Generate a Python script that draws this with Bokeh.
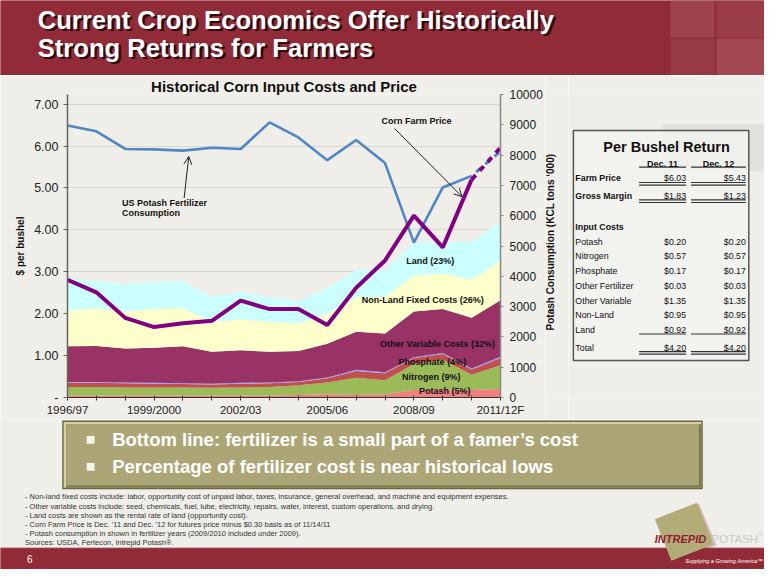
import math
from bokeh.plotting import figure
from bokeh.models import (ColumnDataSource, Range1d, LinearAxis, FixedTicker, Label,
                          Arrow, OpenHead)
from bokeh.layouts import column, row
from bokeh.embed import file_html
from bokeh.resources import INLINE

# ---------------- data ----------------
years = ["1996/97", "1997/98", "1998/99", "1999/2000", "2000/01", "2001/02", "2002/03",
         "2003/04", "2004/05", "2005/06", "2006/07", "2007/08", "2008/09", "2009/10",
         "2010/11", "2011/12F"]
# $ per bushel, stacked layers (bottom to top)
potash     = [0.05, 0.05, 0.05, 0.05, 0.05, 0.05, 0.05, 0.05, 0.06, 0.08, 0.06, 0.08, 0.18, 0.20, 0.18, 0.20]
nitrogen   = [0.20, 0.20, 0.19, 0.19, 0.19, 0.18, 0.19, 0.20, 0.23, 0.28, 0.41, 0.33, 0.62, 0.70, 0.36, 0.57]
phosphate  = [0.10, 0.10, 0.10, 0.09, 0.08, 0.08, 0.09, 0.09, 0.08, 0.10, 0.16, 0.17, 0.14, 0.14, 0.13, 0.17]
other_fert = [0.02, 0.02, 0.02, 0.02, 0.02, 0.02, 0.02, 0.02, 0.02, 0.02, 0.03, 0.02, 0.02, 0.02, 0.02, 0.03]
other_var  = [0.85, 0.86, 0.81, 0.84, 0.88, 0.76, 0.78, 0.73, 0.72, 0.80, 0.91, 0.93, 1.09, 1.05, 1.21, 1.35]
non_land   = [0.85, 0.90, 0.88, 0.92, 0.91, 0.71, 0.74, 0.71, 0.66, 0.73, 0.82, 0.88, 0.86, 0.84, 0.91, 0.95]
land       = [0.77, 0.65, 0.65, 0.64, 0.65, 0.60, 0.65, 0.59, 0.53, 0.60, 0.65, 0.63, 0.78, 0.76, 0.90, 0.92]
corn_price = [2.81, 2.51, 1.90, 1.68, 1.77, 1.83, 2.31, 2.11, 2.11, 1.73, 2.62, 3.27, 4.34, 3.58, 5.20, 5.96]
potash_kcl = [8975, 8784, 8203, 8190, 8149, 8244, 8203, 9080, 8584, 7832, 8498, 7737, 5111, 6933, 7314, 8127]

layer_names = ["Potash (5%)", "Nitrogen (9%)", "Phosphate (4%)", "Other Fertilizer",
               "Other Variable Costs (32%)", "Non-Land Fixed Costs (26%)", "Land (23%)"]
left_ticks = [0, 1, 2, 3, 4, 5, 6, 7]
left_tick_labels = ["-", "1.00", "2.00", "3.00", "4.00", "5.00", "6.00", "7.00"]
right_ticks = [0, 1000, 2000, 3000, 4000, 5000, 6000, 7000, 8000, 9000, 10000]
right_tick_labels = ["0", "1000", "2000", "3000", "4000", "5000", "6000", "7000", "8000", "9000", "10000"]

table_rows = ["Farm Price", "Gross Margin", "Input Costs", "Potash", "Nitrogen", "Phosphate",
              "Other Fertilizer", "Other Variable", "Non-Land", "Land", "Total"]
table_dec11 = [6.03, 1.83, None, 0.20, 0.57, 0.17, 0.03, 1.35, 0.95, 0.92, 4.20]
table_dec12 = [5.43, 1.23, None, 0.20, 0.57, 0.17, 0.03, 1.35, 0.95, 0.92, 4.20]

bullets = ["Bottom line: fertilizer is a small part of a famer\u2019s cost",
           "Percentage of fertilizer cost is near historical lows"]
footnotes = [
    "- Non-land fixed costs include: labor, opportunity cost of unpaid labor, taxes, insurance, general overhead, and machine and equipment expenses.",
    "- Other variable costs include: seed, chemicals, fuel, lube, electricity, repairs, water, interest, custom operations, and drying.",
    "- Land costs are shown as the rental rate of land (opportunity cost).",
    "- Corn Farm Price is Dec. \u201911 and Dec. \u201912 for futures price minus $0.30 basis as of 11/14/11",
    "- Potash consumption in shown in fertilizer years (2009/2010 included under 2009).",
    "Sources: USDA, Fertecon, Intrepid Potash\u00ae.",
]

# ---------------- style ----------------
BG = "#efeee9"
RED = "#922b38"
FONT = "Liberation Sans"


def base_fig(w, h, xr, yr):
    f = figure(width=w, height=h, x_range=Range1d(*xr), y_range=Range1d(*yr),
               output_backend="svg", toolbar_location=None, min_border=0,
               x_axis_type=None, y_axis_type=None)
    f.grid.visible = False
    f.outline_line_color = None
    f.background_fill_color = BG
    f.border_fill_color = BG
    return f


def lab(f, x, y, text, size, color="#111111", style="normal", align="left", **kw):
    f.add_layout(Label(x=x, y=y, text=text, text_font=FONT, text_font_size=size,
                       text_color=color, text_font_style=style, text_align=align,
                       text_baseline="middle", **kw))


# ---------------- title bar ----------------
top = base_fig(764, 75, (0, 780), (77, 0))
top.quad(left=[0], right=[780], top=[0], bottom=[77], color=RED)
top.quad(left=[684, 731, 684, 731], right=[729, 780, 729, 780], top=[0, 0, 39, 39],
         bottom=[38, 38, 77, 77], fill_color=["#a24b55", "#9c414c", "#9a3f4a", "#a44f58"],
         line_color=None, fill_alpha=0.8)
for i, t in enumerate(["Current Crop Economics Offer Historically", "Strong Returns for Farmers"]):
    yy = 20 + 28.5 * i
    lab(top, 40.5, yy + 2.5, t, "25.6px", "#2e0a0e", "bold")
    lab(top, 38, yy, t, "25.6px", "#ffffff", "bold")

# ---------------- chart ----------------
x = list(range(len(years)))
src = ColumnDataSource(dict(x=x, potash=potash, nitrogen=nitrogen, phosphate=phosphate,
                            other_fert=other_fert, other_var=other_var,
                            non_land=non_land, land=land))
p = figure(width=545, height=344, x_range=Range1d(0, len(years) - 1), y_range=Range1d(0, 7.23),
           output_backend="svg", toolbar_location=None,
           min_border_left=67, min_border_right=43, min_border_top=15, min_border_bottom=22)
p.extra_y_ranges = {"kcl": Range1d(0, 10000)}
p.background_fill_color = BG
p.border_fill_color = BG
p.outline_line_color = None
p.xgrid.visible = False
p.ygrid.grid_line_color = "#d6d6d2"
p.ygrid.grid_line_width = 1.2

p.title.text = "Historical Corn Input Costs and Price"
p.title.text_font = FONT
p.title.text_font_size = "15px"
p.title.text_font_style = "bold"
p.title.text_color = "#111111"
p.title.align = "center"
p.title.offset = -12
p.title.standoff = 0

p.varea_stack(stackers=["potash", "nitrogen", "phosphate", "other_fert", "other_var", "non_land", "land"],
              x="x", source=src,
              color=["#f08080", "#9bbb59", "#c0504d", "#9999ff", "#993366", "#ffffcc", "#ccffff"])

blue = "#4f86c6"
purple = "#800080"
p.line(x[:15], potash_kcl[:15], y_range_name="kcl", line_color=blue, line_width=2.6)
p.line(x[:15], corn_price[:15], line_color=purple, line_width=4)
p.line(x[14:], potash_kcl[14:], y_range_name="kcl", line_color=blue, line_width=3, line_dash="6 6",
       line_dash_offset=6)
p.line(x[14:], corn_price[14:], line_color=purple, line_width=4, line_dash="6 6")

# axes
ax = p.xaxis[0]
ax.ticker = FixedTicker(ticks=x)
ax.major_label_overrides = {i: (years[i] if i % 3 == 0 else "") for i in x}
ax.major_tick_out = 3
ax.major_tick_in = 2
ax.minor_tick_line_color = None
ax.axis_line_color = "#333333"
ax.major_tick_line_color = "#333333"
ax.major_label_text_font = FONT
ax.major_label_text_font_size = "11.5px"
ax.major_label_text_color = "#222222"
ax.major_label_standoff = 3

ay = p.yaxis[0]
ay.ticker = FixedTicker(ticks=left_ticks)
ay.major_label_overrides = dict(zip(left_ticks, left_tick_labels))
ay.major_tick_out = 4
ay.major_tick_in = 0
ay.minor_tick_line_color = None
ay.axis_line_color = "#666666"
ay.axis_line_width = 1.5
ay.major_tick_line_color = "#666666"
ay.major_label_text_font = FONT
ay.major_label_text_font_size = "12.5px"
ay.major_label_text_color = "#222222"
ay.axis_label = "$ per bushel"
ay.axis_label_text_font = FONT
ay.axis_label_text_font_size = "10px"
ay.axis_label_text_font_style = "bold"
ay.axis_label_text_color = "#111111"
ay.axis_label_standoff = 5

ar = LinearAxis(y_range_name="kcl", ticker=FixedTicker(ticks=right_ticks))
ar.major_label_overrides = dict(zip(right_ticks, right_tick_labels))
ar.major_tick_out = 3
ar.major_tick_in = 0
ar.minor_tick_line_color = None
ar.axis_line_color = "#888888"
ar.axis_line_width = 1.5
ar.major_tick_line_color = "#888888"
ar.major_label_text_font = FONT
ar.major_label_text_font_size = "12px"
ar.major_label_text_color = "#222222"
ar.major_label_standoff = 6
p.add_layout(ar, "right")

# annotations (data units)
lab(p, 12.09, 6.60, "Corn Farm Price", "9px", "#111111", "bold", "center")
p.add_layout(Arrow(end=OpenHead(size=8, line_width=1, line_color="#222222"),
                   x_start=11.33, y_start=6.42, x_end=13.67, y_end=4.79,
                   line_width=1, line_color="#222222"))
lab(p, 1.89, 4.65, "US Potash Fertilizer", "9px", "#111111", "bold")
lab(p, 1.89, 4.41, "Consumption", "9px", "#111111", "bold")
p.add_layout(Arrow(end=OpenHead(size=8, line_width=1, line_color="#222222"),
                   x_start=4.04, y_start=4.76, x_end=4.2, y_end=5.75,
                   line_width=1, line_color="#222222"))
label_pos = {"Land (23%)": (12.57, 3.25), "Non-Land Fixed Costs (26%)": (12.31, 2.32),
             "Other Variable Costs (32%)": (12.82, 1.28), "Phosphate (4%)": (12.64, 0.84),
             "Nitrogen (9%)": (12.6, 0.48), "Potash (5%)": (13.07, 0.16)}
for name in layer_names:
    if name in label_pos:
        lx, ly = label_pos[name]
        lab(p, lx, ly, name, "9px", "#111111", "bold", "center")

# right-axis title strip (reads bottom-to-top)
rl = base_fig(23, 344, (556.5, 580), (430, 77))
rl.add_layout(Label(x=562, y=249, text="Potash Consumption (KCL tons \u2018000)", angle=math.pi / 2,
                    text_font=FONT, text_font_size="10px", text_font_style="bold",
                    text_color="#111111", text_align="center", text_baseline="middle"))

# ---------------- table ----------------
tb = base_fig(196, 344, (580, 780), (430, 77))
tb.quad(left=[676], right=[780], top=[112], bottom=[166], fill_color="#e2e1dc", line_color=None)
tb.quad(left=[585], right=[764], top=[119], bottom=[387], fill_color="#f3f3f0",
        fill_alpha=0.75, line_color="#555555", line_width=1.5)
lab(tb, 680, 138, "Per Bushel Return", "14.5px", "#111111", "bold", "center")
lab(tb, 676, 157.5, "Dec. 11", "9px", "#111111", "bold", "center")
lab(tb, 733, 157.5, "Dec. 12", "9px", "#111111", "bold", "center")
row_y = [174.3, 195, 231.7, 248.7, 265.7, 283, 300.3, 317.3, 334.3, 351, 372]
bold_rows = {"Farm Price", "Gross Margin", "Input Costs"}
for name, yy, v1, v2 in zip(table_rows, row_y, table_dec11, table_dec12):
    lab(tb, 587, yy, name, "8.8px", "#111111", "bold" if name in bold_rows else "normal")
    if v1 is not None:
        lab(tb, 700, yy, "$%.2f" % v1, "8.8px", "#111111", "normal", "right")
        lab(tb, 761, yy, "$%.2f" % v2, "8.8px", "#111111", "normal", "right")
seg_x0 = [652, 705]
seg_x1 = [700, 761]
for yy in [161.5, 179.5, 182.5, 199.8, 202.8, 356, 376.5, 379.5]:
    tb.segment(x0=seg_x0, x1=seg_x1, y0=[yy, yy], y1=[yy, yy], line_color="#333333", line_width=1.2)

# ---------------- bottom ----------------
bot = base_fig(764, 150, (0, 780), (585, 430))
bot.quad(left=[63], right=[717], top=[431], bottom=[502], fill_color="#6e6842", line_color=None)
bot.quad(left=[64.5], right=[715.5], top=[432.5], bottom=[500.5], fill_color="#d6d1a4", line_color=None)
bot.quad(left=[67], right=[715.5], top=[435], bottom=[500.5], fill_color="#7f7a50", line_color=None)
bot.quad(left=[67], right=[713], top=[435], bottom=[498], fill_color="#aca677", line_color=None)
for i, t in enumerate(bullets):
    yy = 451 + 28 * i
    bot.quad(left=[88], right=[96], top=[yy - 4], bottom=[yy + 4], fill_color="#f5f5ee", line_color=None)
    lab(bot, 114, yy, t, "18.5px", "#ffffff", "bold")
fy = [510, 519.5, 529, 538.3, 547.6, 557.5]
for t, yy in zip(footnotes, fy):
    lab(bot, 25, yy, t, "7.5px", "#333333")
bot.quad(left=[0], right=[780], top=[563], bottom=[585], color=RED)
lab(bot, 27, 574, "6", "10px", "#ffffff")
bot.patch([671, 713, 731, 689], [534, 517, 560, 577], fill_color="#6b2a2a", fill_alpha=0.25, line_color=None)
bot.patch([668, 711, 728, 685], [533, 516, 559, 576], fill_color="#b3ab78", line_color=None)
lab(bot, 668, 553, "INTREPID", "11px", "#8e1b2c", "bold italic")
lab(bot, 726, 553, "POTASH", "11.5px", "#c8c8c8")
lab(bot, 774, 548, "\u00ae", "5px", "#c8c8c8")
lab(bot, 699, 576, "Supplying a Growing America\u2122", "5.5px", "#ffffff", "italic")

layout = column(top, row(p, rl, tb), bot)
open("out.html", "w").write(file_html(layout, INLINE))
